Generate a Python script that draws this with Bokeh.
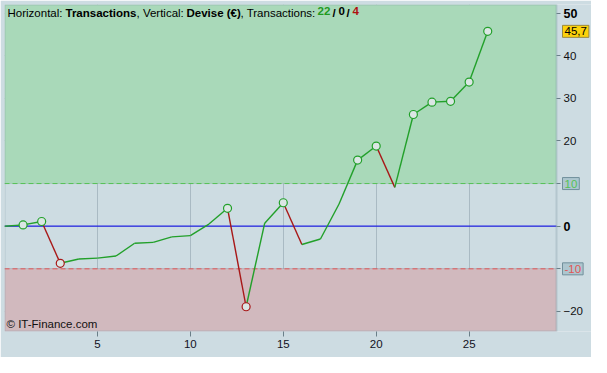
from bokeh.plotting import figure
from bokeh.models import (BoxAnnotation, Label, FixedTicker, ColumnDataSource, LinearAxis)
from bokeh.embed import file_html
from bokeh.resources import INLINE

# ---- data ----
trade_no = list(range(0, 27))
equity = [0.0, 0.3, 1.1, -8.7, -7.7, -7.5, -7.0, -4.0, -3.8, -2.5, -2.2, 0.5, 4.2,
          -18.9, 0.7, 5.5, -4.3, -3.0, 5.2, 15.5, 18.8, 9.1, 26.2, 29.1, 29.3, 33.8, 45.7]
x_ticks = [5, 10, 15, 20, 25]
y_ticks = [-20, -10, 0, 10, 20, 30, 40, 50]
upper_level = 10
lower_level = -10
last_value_label = "45,7"
wins, neutral, losses = 22, 0, 4

X_START, X_END = 0, 29.7
Y_START, Y_END = -24.7, 52.0
PLOT_W, PLOT_H = 552, 327
RIGHT_PX = 35
PX_X = PLOT_W / (X_END - X_START)
PX_Y = PLOT_H / (Y_END - Y_START)
X_FULL_END = X_END + RIGHT_PX / PX_X

BG = "#cddce2"
GREEN_ZONE = "#a9d9b9"
RED_ZONE = "#d1b9be"
UP = "#22a02a"
DOWN = "#a81818"
BORDER = "#7a94a0"
FONT = "Liberation Sans"

p = figure(frame_width=PLOT_W + RIGHT_PX, frame_height=PLOT_H,
           x_range=(X_START, X_FULL_END), y_range=(Y_START, Y_END),
           y_axis_location=None, toolbar_location=None, output_backend="svg",
           min_border_left=4, min_border_top=4, min_border_right=0, min_border_bottom=26)

p.background_fill_color = BG
p.border_fill_color = BG
p.outline_line_color = None

# zones (limited to plot area)
p.add_layout(BoxAnnotation(bottom=upper_level, right=X_END, fill_color=GREEN_ZONE, fill_alpha=1.0,
                           line_color=None, level="underlay"))
p.add_layout(BoxAnnotation(top=lower_level, right=X_END, fill_color=RED_ZONE, fill_alpha=1.0,
                           line_color=None, level="underlay"))

# grid
p.xgrid.ticker = FixedTicker(ticks=x_ticks)
p.ygrid.ticker = FixedTicker(ticks=y_ticks)
p.ygrid.cross_bounds = (X_START, X_END)
for g in (p.xgrid, p.ygrid):
    g.grid_line_color = "#4d6672"
    g.grid_line_alpha = 0.28
    g.grid_line_width = 1

# reference lines
p.segment(x0=[X_START], x1=[X_END], y0=[upper_level], y1=[upper_level],
          line_color="#55c255", line_dash="5 3", line_width=1)
p.segment(x0=[X_START], x1=[X_END], y0=[lower_level], y1=[lower_level],
          line_color="#e25555", line_dash="5 3", line_width=1)
p.segment(x0=[X_START], x1=[X_END], y0=[0], y1=[0], line_color="#2626e6", line_width=1.3)

# plot border
p.add_layout(BoxAnnotation(left=X_START, right=X_END, bottom=Y_START, top=Y_END,
                           fill_color=None, line_color=BORDER, line_width=2, level="overlay"))

# bottom axis
xa = p.xaxis[0]
xa.ticker = FixedTicker(ticks=x_ticks)
xa.axis_line_color = None
xa.major_tick_line_color = "#6a7f88"
xa.major_tick_out = 5
xa.major_tick_in = 0
xa.minor_tick_line_color = None
xa.major_label_standoff = 3
xa.major_label_text_font = FONT
xa.major_label_text_font_size = "11.5px"
xa.major_label_text_color = "#111122"

# right axis fixed at the right edge of the plot area
ya = LinearAxis(fixed_location=X_END, ticker=FixedTicker(ticks=y_ticks))
ya.axis_line_color = None
ya.major_tick_line_color = "#6a7f88"
ya.major_tick_out = 4
ya.major_tick_in = 0
ya.minor_tick_line_color = None
ya.major_label_standoff = 3
ya.major_label_text_font = FONT
ya.major_label_text_font_size = "11.5px"
ya.major_label_text_color = "#111111"
ya.major_label_overrides = {50: " ", 0: " ", upper_level: " ", lower_level: " "}
p.add_layout(ya, "right")

# segments coloured by direction
x0 = trade_no[:-1]
x1 = trade_no[1:]
y0 = equity[:-1]
y1 = equity[1:]
cols = [UP if b >= a else DOWN for a, b in zip(y0, y1)]
seg = ColumnDataSource(dict(x0=x0, x1=x1, y0=y0, y1=y1, c=cols))
p.segment(x0="x0", y0="y0", x1="x1", y1="y1", color="c", line_width=1.4, source=seg)

# markers at new highs / new lows
mx, my, mc = [], [], []
hi, lo = equity[0], equity[0]
for xv, yv in zip(trade_no[1:], equity[1:]):
    if yv > hi:
        hi = yv
        mx.append(xv); my.append(yv); mc.append(UP)
    elif yv < lo:
        lo = yv
        mx.append(xv); my.append(yv); mc.append(DOWN)
p.scatter(mx, my, size=8, marker="circle", fill_color="#dbe6e4", line_color=mc, line_width=1.2)

# right-side labels
xr = X_END + 7 / PX_X
for v in (50, 0):
    p.add_layout(Label(x=xr, y=v, text=str(v), text_baseline="middle", text_align="left",
                       text_font=FONT, text_font_size="12.5px", text_font_style="bold", text_color="#000000"))
xb = X_END + 6 / PX_X
p.add_layout(Label(x=xb, y=upper_level, text=str(upper_level), text_baseline="middle", text_align="left",
                   text_font=FONT, text_font_size="11.5px", text_color="#55c255",
                   background_fill_color="#adc6cf", border_line_color="#71909c", padding=2))
p.add_layout(Label(x=xb, y=lower_level, text=str(lower_level), text_baseline="middle", text_align="left",
                   text_font=FONT, text_font_size="11.5px", text_color="#e25555",
                   background_fill_color="#adc6cf", border_line_color="#71909c", padding=2))
p.add_layout(Label(x=xb, y=equity[-1], text=last_value_label, text_baseline="middle", text_align="left",
                   text_font=FONT, text_font_size="11.5px", text_color="#000000",
                   background_fill_color="#fcd20c", border_line_color="#9a8a40", padding=2))

# title segments (offset in px from plot left, text, style, colour)
title_parts = [
    (3, "Horizontal:", "normal", "#000000"),
    (61, "Transactions", "bold", "#000000"),
    (132, ", Vertical:", "normal", "#000000"),
    (182, "Devise (€)", "bold", "#000000"),
    (236, ", Transactions:", "normal", "#000000"),
    (313, str(wins), "bold", "#1f9a1f"),
    (328, "/", "bold", "#000000"),
    (334, str(neutral), "bold", "#000000"),
    (342, "/", "bold", "#000000"),
    (348, str(losses), "bold", "#b01010"),
]
ty = Y_END - 2 / PX_Y
for off, txt, style, col in title_parts:
    p.add_layout(Label(x=X_START + off / PX_X, y=ty, text=txt, text_baseline="top", text_align="left",
                       text_font=FONT, text_font_size="11.5px", text_font_style=style, text_color=col))

p.add_layout(Label(x=X_START + 2 / PX_X, y=Y_START + 2 / PX_Y, text="© IT-Finance.com",
                   text_baseline="bottom", text_align="left",
                   text_font=FONT, text_font_size="11.5px", text_color="#111111"))

open("out.html", "w").write(file_html(p, INLINE))
